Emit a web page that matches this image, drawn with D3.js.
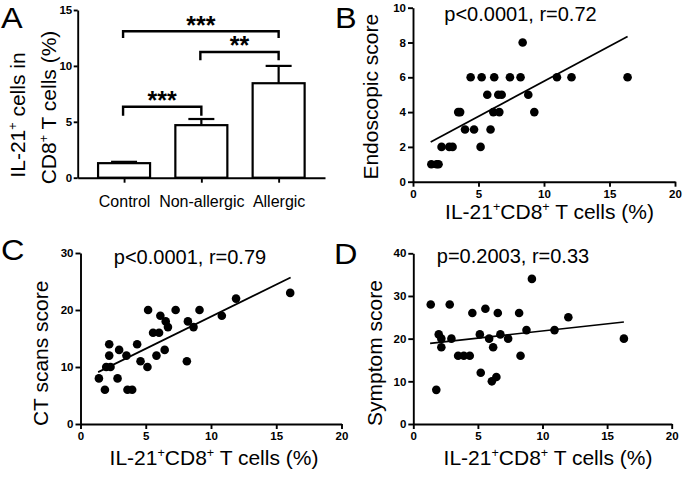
<!DOCTYPE html>
<html><head><meta charset="utf-8">
<script src="https://cdn.jsdelivr.net/npm/d3@7"></script>
<style>
body{margin:0;background:#fff}
svg{display:block;font-family:"Liberation Sans",Arial,Helvetica,sans-serif;background:#fff}
.axis path,.axis line{stroke:#000;stroke-width:1.9}
.axis text{fill:#000;font-family:"Liberation Sans",Arial,sans-serif}
</style></head><body><svg id="c" width="685" height="479"></svg>
<script>
// ---------- Panel A data ----------
const barCats = ["Control", "Non-allergic", "Allergic"];
const barMeans = [1.3, 4.7, 8.45];
const barSEM = [0.12, 0.55, 1.55];
const aTicks = [0, 5, 10, 15];
const bracketFrom = ["Control", "Non-allergic", "Control"];
const bracketTo = ["Allergic", "Allergic", "Non-allergic"];
const bracketY = [13.1, 11.25, 6.35];
const bracketLegY = [12.5, 10.5, 5.55];
const bracketLabel = ["***", "**", "***"];

// ---------- Panel B data ----------
const xB = [1.4, 1.8, 1.95, 2.18, 2.77, 3.02, 3.45, 3.6, 3.97, 4.4, 4.66, 5.16, 5.24, 5.67, 5.92, 6.13, 6.2, 6.51, 6.77, 6.59, 7.4, 8.21, 8.37, 8.8, 9.26, 10.99, 12.1, 16.38];
const yB = [1, 1, 1, 2, 2, 2, 4, 4, 3, 6, 3, 2, 6, 5, 3, 4, 6, 5, 5, 4, 6, 6, 8, 5, 4, 6, 6, 6];
const fitBx = [1.35, 16.38], fitBy = [2.28, 8.35];
const bTicksX = [0, 5, 10, 15, 20], bTicksY = [0, 2, 4, 6, 8, 10];

// ---------- Panel C data ----------
const xC = [1.41, 1.87, 1.97, 2.3, 2.2, 2.2, 2.84, 2.96, 3.52, 3.6, 3.96, 4.34, 4.6, 5.13, 5.18, 5.56, 6.02, 5.82, 6.12, 6.45, 6.53, 6.7, 7.29, 8.15, 8.23, 8.66, 9.12, 10.83, 11.92, 16.07];
const yC = [8, 6, 10, 10, 12, 14, 8, 13, 12, 6, 6, 14, 11, 10, 20, 16, 16, 12, 19, 13, 18, 17, 20, 11, 18, 17, 20, 19, 22, 23];
const fitCx = [1.35, 16.1], fitCy = [9.1, 25.7];
const cTicksX = [0, 5, 10, 15, 20], cTicksY = [0, 10, 20, 30];

// ---------- Panel D data ----------
const xD = [1.35, 2.82, 1.78, 1.97, 2.17, 2.17, 2.95, 3.47, 3.91, 4.37, 4.57, 5.15, 5.22, 5.58, 5.87, 6.18, 6.08, 6.43, 6.54, 6.74, 7.34, 8.19, 8.3, 8.76, 9.18, 10.93, 12.0, 16.3];
const yD = [28, 28, 8, 21, 20, 18, 20, 16, 16, 16, 26, 21, 12, 27, 20, 18, 10, 11, 26, 21, 20, 26, 16, 22, 34, 22, 25, 20];
const fitDx = [1.3, 16.3], fitDy = [18.9, 23.9];
const dTicksX = [0, 5, 10, 15, 20], dTicksY = [0, 10, 20, 30, 40];

const svg = d3.select("#c");
svg.append("rect").attr("width", 685).attr("height", 479).attr("fill", "#fff");

function supText(sel, parts, fs) {
  let prevSup = false;
  parts.forEach(([t, s]) => {
    const ts = sel.append("tspan").text(t);
    if (s) { ts.attr("font-size", fs * 0.6).attr("dy", -fs * 0.38); }
    else if (prevSup) { ts.attr("dy", fs * 0.38); }
    prevSup = s;
  });
}
const xTitleParts = [["IL-21", false], ["+", true], ["CD8", false], ["+", true], [" T cells (%)", false]];

function styleTicks(axisSel) {
  axisSel.selectAll("text").style("font-size", "11.5px").style("font-weight", "bold");
}

function panelLetter(t, x, y) {
  svg.append("text").attr("x", x).attr("y", y).attr("font-size", 29)
    .attr("transform", `translate(${x},${y}) scale(1.12,1) translate(${-x},${-y})`).text(t);
}

// ---------- Panel A ----------
(function () {
  const x = d3.scalePoint().domain(barCats).range([77.7, 325]).padding(0.6);
  const y = d3.scaleLinear().domain([0, 15]).range([177.7, 10]);
  const g = svg.append("g");
  const ya = g.append("g").attr("class", "axis").attr("transform", "translate(77.7,0)")
    .call(d3.axisLeft(y).tickValues(aTicks).tickSize(4).tickSizeOuter(0).tickPadding(1.5));
  styleTicks(ya);
  const xa = g.append("g").attr("class", "axis").attr("transform", "translate(0,177.7)")
    .call(d3.axisBottom(x).tickSize(5).tickSizeOuter(0).tickPadding(13));
  xa.selectAll("text").style("font-size", "16px").style("font-weight", "normal");
  const bw = 52;
  barCats.forEach((c, i) => {
    const cx = x(c);
    g.append("line").attr("x1", cx).attr("x2", cx).attr("y1", y(barMeans[i])).attr("y2", y(barMeans[i] + barSEM[i]))
      .attr("stroke", "#000").attr("stroke-width", 2.2);
    g.append("line").attr("x1", cx - 13).attr("x2", cx + 13).attr("y1", y(barMeans[i] + barSEM[i])).attr("y2", y(barMeans[i] + barSEM[i]))
      .attr("stroke", "#000").attr("stroke-width", 2.2);
    g.append("rect").attr("x", cx - bw / 2).attr("width", bw).attr("y", y(barMeans[i]))
      .attr("height", y(0) - y(barMeans[i])).attr("fill", "#fff").attr("stroke", "#000").attr("stroke-width", 2.2);
  });
  bracketFrom.forEach((f, i) => {
    const x1 = x(f) - 1, x2 = x(bracketTo[i]);
    const yy = y(bracketY[i]), yl = y(bracketLegY[i]);
    g.append("path").attr("d", `M${x1},${yl}V${yy}H${x2}V${yl}`).attr("fill", "none").attr("stroke", "#000").attr("stroke-width", 2.4);
    g.append("text").attr("x", (x1 + x2) / 2).attr("y", yy + 2.5).attr("text-anchor", "middle")
      .attr("font-size", 25).attr("font-weight", "bold").text(bracketLabel[i]);
  });
  const t1 = g.append("text").attr("transform", "translate(25,115) rotate(-90)").attr("text-anchor", "middle").attr("font-size", 21);
  supText(t1, [["IL-21", false], ["+", true], [" cells in", false]], 21);
  const t2 = g.append("text").attr("transform", "translate(56,107.5) rotate(-90)").attr("text-anchor", "middle").attr("font-size", 21);
  supText(t2, [["CD8", false], ["+", true], [" T cells (%)", false]], 21);
  panelLetter("A", 1, 28);
})();

function scatter(o) {
  const x = d3.scaleLinear().domain([0, 20]).range(o.xr);
  const y = d3.scaleLinear().domain(o.yd).range(o.yr);
  const g = svg.append("g");
  const xa = g.append("g").attr("class", "axis").attr("transform", `translate(0,${o.yr[0]})`)
    .call(d3.axisBottom(x).tickValues(o.tx).tickSize(5).tickSizeOuter(0).tickPadding(3));
  styleTicks(xa);
  const ya = g.append("g").attr("class", "axis").attr("transform", `translate(${o.xr[0]},0)`)
    .call(d3.axisLeft(y).tickValues(o.ty).tickSize(5).tickSizeOuter(0).tickPadding(2));
  styleTicks(ya);
  g.selectAll("circle.pt").data(o.xs).join("circle").attr("class", "pt")
    .attr("cx", d => x(d)).attr("cy", (d, i) => y(o.ys[i])).attr("r", 4.3).attr("fill", "#000");
  g.append("line").attr("x1", x(o.fx[0])).attr("y1", y(o.fy[0])).attr("x2", x(o.fx[1])).attr("y2", y(o.fy[1]))
    .attr("stroke", "#000").attr("stroke-width", 1.7);
  g.append("text").attr("x", o.pPos[0]).attr("y", o.pPos[1]).attr("text-anchor", "middle").attr("font-size", 20).text(o.pText);
  const xt = g.append("text").attr("x", o.xtPos[0]).attr("y", o.xtPos[1]).attr("text-anchor", "middle").attr("font-size", 21);
  supText(xt, xTitleParts, 21);
  g.append("text").attr("transform", `translate(${o.ytPos[0]},${o.ytPos[1]}) rotate(-90)`).attr("text-anchor", "middle")
    .attr("font-size", 21).text(o.yTitle);
  panelLetter(o.letter, o.lPos[0], o.lPos[1]);
}

scatter({ xs: xB, ys: yB, fx: fitBx, fy: fitBy, xr: [413, 675], yd: [0, 10], yr: [181.7, 7.7], tx: bTicksX, ty: bTicksY,
  pText: "p<0.0001, r=0.72", pPos: [520.5, 20.7], xtPos: [549.5, 218.5], ytPos: [378, 96.7], yTitle: "Endoscopic score", letter: "B", lPos: [335, 28] });
scatter({ xs: xC, ys: yC, fx: fitCx, fy: fitCy, xr: [80.5, 341.5], yd: [0, 30], yr: [424, 253], tx: cTicksX, ty: cTicksY,
  pText: "p<0.0001, r=0.79", pPos: [190, 263.5], xtPos: [214, 465], ytPos: [47.5, 353.3], yTitle: "CT scans score", letter: "C", lPos: [1, 260] });
scatter({ xs: xD, ys: yD, fx: fitDx, fy: fitDy, xr: [413.3, 671.7], yd: [0, 40], yr: [424, 253.3], tx: dTicksX, ty: dTicksY,
  pText: "p=0.2003, r=0.33", pPos: [513, 263.3], xtPos: [548, 465], ytPos: [382, 353], yTitle: "Symptom score", letter: "D", lPos: [334, 264] });
</script></body></html>
